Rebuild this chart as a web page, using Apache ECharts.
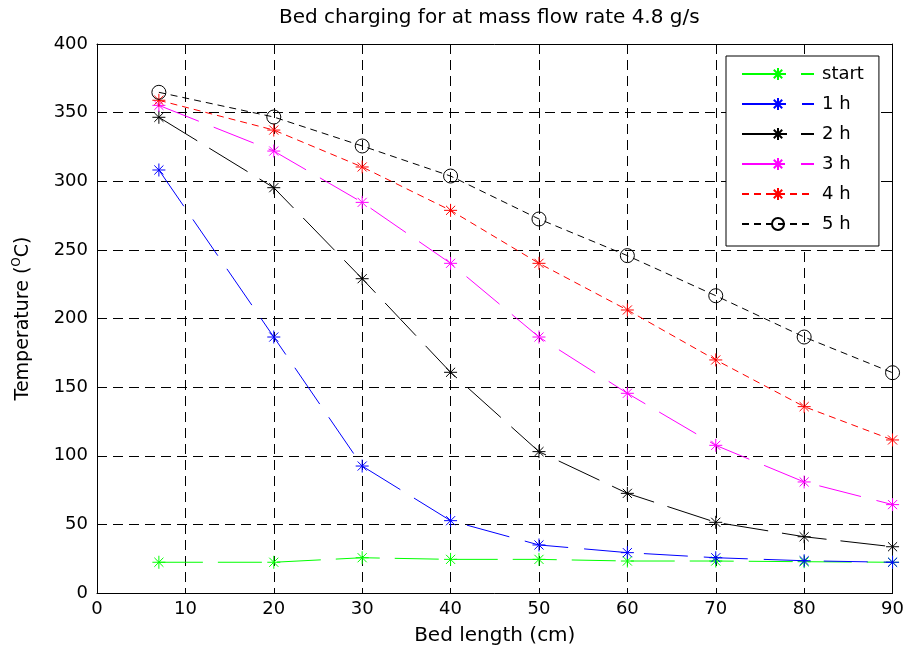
<!DOCTYPE html>
<html>
<head>
<meta charset="utf-8">
<script src="https://cdn.jsdelivr.net/npm/echarts@6/dist/echarts.min.js"></script>
<style>
  html, body { margin: 0; padding: 0; background: #fff; }
  #chart { width: 907px; height: 654px; }
</style>
</head>
<body>
<div id="chart"></div>
<script>
// ---- data ----
const bedLength = [7, 20, 30, 40, 50, 60, 70, 80, 90];
const seriesNames = ['start', '1 h', '2 h', '3 h', '4 h', '5 h'];
const tStart = [22.4, 22.4, 25.7, 24.5, 24.5, 23.3, 23.3, 22.8, 22.4];
const t1h = [308.2, 186.5, 92.5, 52.7, 35.0, 29.4, 25.7, 23.5, 22.4];
const t2h = [346.6, 295.3, 229.0, 160.8, 103.0, 72.6, 51.5, 41.0, 33.7];
const t3h = [355.3, 322.0, 284.6, 240.2, 186.5, 145.5, 107.6, 80.9, 64.4];
const t4h = [359.0, 337.3, 310.4, 278.8, 240.2, 206.2, 169.8, 135.8, 111.5];
const t5h = [364.8, 346.8, 325.7, 303.8, 272.5, 245.8, 216.6, 186.5, 160.5];
const xTicks = [0, 10, 20, 30, 40, 50, 60, 70, 80, 90];
const yTicks = [0, 50, 100, 150, 200, 250, 300, 350, 400];

const FONT = 'DejaVu Sans';
const asterisk = 'path://M0,-10L0,10M-10,0L10,0M-7,-7L7,7M-7,7L7,-7';

function pairs(vals) { return bedLength.map((x, i) => [x, vals[i]]); }

const styles = [
  { color: '#00ff00', dash: [44, 15], symbol: asterisk },
  { color: '#0000ff', dash: [44, 16], symbol: asterisk },
  { color: '#000000', dash: [45, 14], symbol: asterisk },
  { color: '#ff00ff', dash: [43, 16], symbol: asterisk },
  { color: '#ff0000', dash: [7, 5], symbol: asterisk },
  { color: '#000000', dash: [7, 5], symbol: 'circle' }
];
const values = [tStart, t1h, t2h, t3h, t4h, t5h];

const series = seriesNames.map((name, i) => {
  const s = styles[i];
  const isCircle = s.symbol === 'circle';
  return {
    name: name,
    type: 'line',
    xAxisIndex: 0,
    yAxisIndex: 0,
    data: pairs(values[i]),
    symbol: s.symbol,
    symbolSize: isCircle ? 14 : 13,
    showAllSymbol: true,
    color: s.color,
    lineStyle: { color: s.color, width: 1, type: s.dash },
    itemStyle: {
      color: isCircle ? 'rgba(0,0,0,0)' : s.color,
      borderColor: s.color,
      borderWidth: 1
    },
    emphasis: { disabled: true },
    animation: false,
    z: 3 + i
  };
});

const chart = echarts.init(document.getElementById('chart'), null, { renderer: 'canvas' });
chart.setOption({
  animation: false,
  backgroundColor: '#fff',
  textStyle: { fontFamily: FONT, color: '#000' },
  title: {
    text: 'Bed charging for at mass flow rate 4.8 g/s',
    left: 279,
    top: 8,
    padding: 0,
    textStyle: { fontFamily: FONT, fontSize: 20, fontWeight: 'normal', color: '#000' }
  },
  grid: { left: 97, right: 14, top: 44, bottom: 61, containLabel: false },
  legend: {
    orient: 'vertical',
    left: 726,
    top: 56,
    padding: [8, 15, 12, 15],
    itemGap: 10,
    itemWidth: 72,
    itemHeight: 15,
    backgroundColor: '#fff',
    borderColor: '#000',
    borderWidth: 1,
    borderRadius: 0,
    data: seriesNames,
    textStyle: { fontFamily: FONT, fontSize: 18, color: '#000', lineHeight: 20, padding: [0, 0, 0, 3] },
    z: 20
  },
  xAxis: [
    {
      type: 'value', position: 'bottom', min: 0, max: 90, interval: 10,
      name: 'Bed length (cm)', nameLocation: 'middle', nameGap: 33,
      nameTextStyle: { fontFamily: FONT, fontSize: 20, color: '#000' },
      axisLine: { show: true, onZero: false, lineStyle: { color: '#000', width: 1 } },
      axisTick: { show: true, inside: true, length: 5, lineStyle: { color: '#000' } },
      axisLabel: {
        margin: 7, fontFamily: FONT, fontSize: 18, color: '#000',
        formatter: v => (xTicks.indexOf(v) >= 0 ? String(v) : '')
      },
      splitLine: { show: true, lineStyle: { color: '#000', width: 1, type: [10, 6] } }
    },
    {
      type: 'value', position: 'top', min: 0, max: 90, interval: 10,
      axisLine: { show: true, onZero: false, lineStyle: { color: '#000', width: 1 } },
      axisTick: { show: true, inside: true, length: 5, lineStyle: { color: '#000' } },
      axisLabel: { show: false },
      splitLine: { show: false }
    }
  ],
  yAxis: [
    {
      type: 'value', position: 'left', min: 0, max: 400, interval: 50,
      name: 'Temperature ({sup|O}C)', nameLocation: 'middle', nameGap: 62, nameRotate: 90,
      nameTextStyle: {
        fontFamily: FONT, fontSize: 19, color: '#000', lineHeight: 24,
        rich: { sup: { fontFamily: FONT, fontSize: 12, verticalAlign: 'top', lineHeight: 24, color: '#000' } }
      },
      axisLine: { show: true, onZero: false, lineStyle: { color: '#000', width: 1 } },
      axisTick: { show: true, inside: true, length: 5, lineStyle: { color: '#000' } },
      axisLabel: {
        margin: 9, fontFamily: FONT, fontSize: 18, color: '#000',
        formatter: v => (yTicks.indexOf(v) >= 0 ? String(v) : '')
      },
      splitLine: { show: true, lineStyle: { color: '#000', width: 1, type: [10, 6] } }
    },
    {
      type: 'value', position: 'right', min: 0, max: 400, interval: 50,
      axisLine: { show: true, onZero: false, lineStyle: { color: '#000', width: 1 } },
      axisTick: { show: true, inside: true, length: 5, lineStyle: { color: '#000' } },
      axisLabel: { show: false },
      splitLine: { show: false }
    }
  ],
  series: series
});
</script>
</body>
</html>
